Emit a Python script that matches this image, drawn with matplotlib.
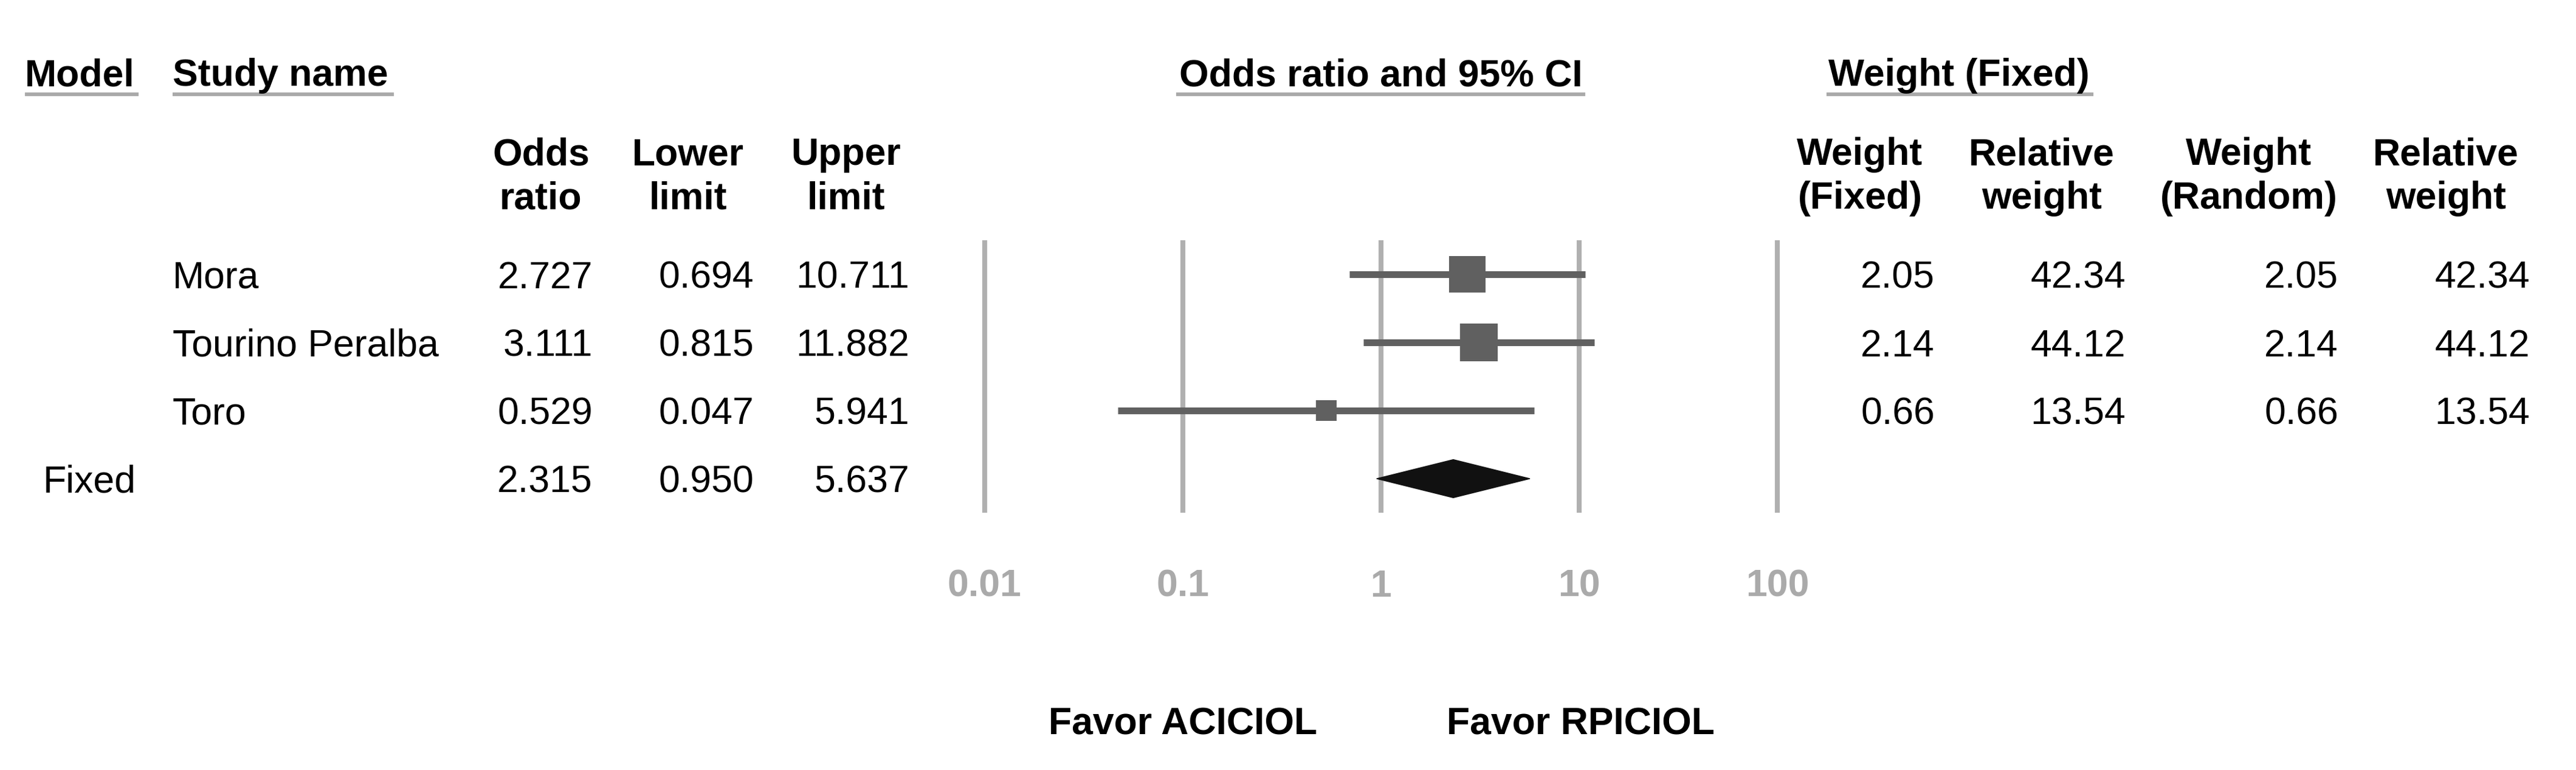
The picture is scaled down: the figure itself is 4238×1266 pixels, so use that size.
import numpy as np
import matplotlib.pyplot as plt
from matplotlib.patches import Polygon

plt.rcParams['font.family'] = ['Liberation Sans', 'DejaVu Sans']

# data
studies = ['Mora', 'Tourino Peralba', 'Toro']
odds = [2.727, 3.111, 0.529]
lower = [0.694, 0.815, 0.047]
upper = [10.711, 11.882, 5.941]
weight_fixed = [2.05, 2.14, 0.66]
rel_weight_fixed = [42.34, 44.12, 13.54]
weight_random = [2.05, 2.14, 0.66]
rel_weight_random = [42.34, 44.12, 13.54]

summary_label = 'Fixed'
summary_odds = 2.315
summary_lower = 0.950
summary_upper = 5.637

tick_values = [0.01, 0.1, 1, 10, 100]
tick_labels = ['0.01', '0.1', '1', '10', '100']
left_label = 'Favor ACICIOL'
right_label = 'Favor RPICIOL'

W, H = 4238, 1266
DPI = 100
fs = 45
grey_line = '#b0b0b0'
bar_col = '#606060'

fig = plt.figure(figsize=(W / DPI, H / DPI), dpi=DPI)

# overlay axes in pixel units for the table text
tx = fig.add_axes([0, 0, 1, 1])
tx.set_xlim(0, W)
tx.set_ylim(H, 0)
tx.axis('off')

# forest plot axes (log scale), one row per study + summary
x_left, x_right = 1587, 2957
y_top, y_bot = 395, 843
ax = fig.add_axes([x_left / W, (H - y_bot) / H, (x_right - x_left) / W, (y_bot - y_top) / H])
ax.set_xscale('log')
ax.set_xlim(10 ** -2.1, 10 ** 2.1)
n_rows = len(studies) + 1
ax.set_ylim(n_rows - 0.5, -0.5)
ax.patch.set_alpha(0)
for s in ax.spines.values():
    s.set_visible(False)
ax.set_yticks([])
ax.set_xticks(tick_values)
ax.set_xticklabels(tick_labels)
ax.minorticks_off()
ax.tick_params(axis='x', length=0, pad=66, labelsize=fs, labelcolor='#aaaaaa')
for lab in ax.get_xticklabels():
    lab.set_fontweight('bold')
ax.grid(axis='x', color=grey_line, linewidth=5.8)
ax.set_axisbelow(True)

for i in range(len(studies)):
    ax.plot([lower[i], upper[i]], [i, i], color=bar_col, linewidth=8, solid_capstyle='butt', zorder=3)
    size_px = 9.3 * np.sqrt(rel_weight_fixed[i])
    ax.plot(odds[i], i, marker='s', markersize=size_px * 0.72, color=bar_col,
            markeredgewidth=0, zorder=4)

r = len(studies)
h = 0.28
diamond = Polygon([[summary_lower, r], [summary_odds, r - h], [summary_upper, r], [summary_odds, r + h]],
                  closed=True, facecolor='#111111', edgecolor='#111111', zorder=4)
ax.add_patch(diamond)

# headers
ul = dict(color='#aaaaaa', linewidth=4.3, solid_capstyle='butt')
tx.text(41, 141, 'Model', fontsize=fs, fontweight='bold', va='baseline')
tx.plot([41, 228], [155, 155], **ul)
tx.text(284, 141, 'Study name', fontsize=fs, fontweight='bold', va='baseline')
tx.plot([284, 648], [155, 155], **ul)
tx.text(2272, 141, 'Odds ratio and 95% CI', fontsize=fs, fontweight='bold', va='baseline', ha='center')
tx.plot([1935, 2608], [155, 155], **ul)
tx.text(3008, 141, 'Weight (Fixed)', fontsize=fs, fontweight='bold', va='baseline')
tx.plot([3005, 3444], [155, 155], **ul)

sub_heads = [(890, 'Odds', 'ratio'), (1132, 'Lower', 'limit'), (1392, 'Upper', 'limit'),
             (3060, 'Weight', '(Fixed)'), (3359, 'Relative', 'weight'),
             (3700, 'Weight', '(Random)'), (4024, 'Relative', 'weight')]
for xc, l1, l2 in sub_heads:
    tx.text(xc, 271, l1, fontsize=fs, fontweight='bold', va='baseline', ha='center')
    tx.text(xc, 343, l2, fontsize=fs, fontweight='bold', va='baseline', ha='center')

# rows
row_base = [474, 586, 698, 810]
for i, name in enumerate(studies):
    yb = row_base[i]
    tx.text(284, yb, name, fontsize=fs, va='baseline')
    tx.text(975, yb, '%.3f' % odds[i], fontsize=fs, va='baseline', ha='right')
    tx.text(1240, yb, '%.3f' % lower[i], fontsize=fs, va='baseline', ha='right')
    tx.text(1496, yb, '%.3f' % upper[i], fontsize=fs, va='baseline', ha='right')
    tx.text(3183, yb, '%.2f' % weight_fixed[i], fontsize=fs, va='baseline', ha='right')
    tx.text(3497, yb, '%.2f' % rel_weight_fixed[i], fontsize=fs, va='baseline', ha='right')
    tx.text(3847, yb, '%.2f' % weight_random[i], fontsize=fs, va='baseline', ha='right')
    tx.text(4162, yb, '%.2f' % rel_weight_random[i], fontsize=fs, va='baseline', ha='right')

yb = row_base[3]
tx.text(224, yb, summary_label, fontsize=fs, va='baseline', ha='right')
tx.text(975, yb, '%.3f' % summary_odds, fontsize=fs, va='baseline', ha='right')
tx.text(1240, yb, '%.3f' % summary_lower, fontsize=fs, va='baseline', ha='right')
tx.text(1496, yb, '%.3f' % summary_upper, fontsize=fs, va='baseline', ha='right')

# favour labels
tx.text(1946, 1208, left_label, fontsize=fs, fontweight='bold', va='baseline', ha='center')
tx.text(2600, 1208, right_label, fontsize=fs, fontweight='bold', va='baseline', ha='center')

fig.savefig('out.png', dpi=DPI)
